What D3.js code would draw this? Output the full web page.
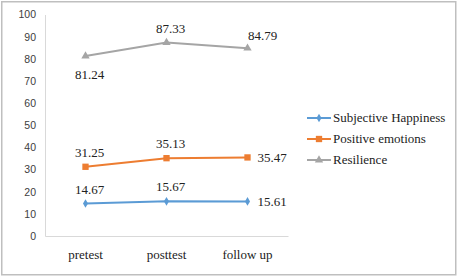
<!DOCTYPE html>
<html><head><meta charset="utf-8">
<script src="https://cdn.jsdelivr.net/npm/d3@7"></script>
<style>body{margin:0;background:#fff}svg{display:block}
.serif{font-family:"Liberation Serif","Times New Roman",Times,serif}
.sans{font-family:"Liberation Sans",Arial,sans-serif}
</style>
</head><body>
<svg id="c" width="458" height="277"></svg>
<script>
const categories = ["pretest", "posttest", "follow up"];
const seriesNames = ["Subjective Happiness", "Positive emotions", "Resilience"];
const happiness = [14.67, 15.67, 15.61];
const positive = [31.25, 35.13, 35.47];
const resilience = [81.24, 87.33, 84.79];
const yTicks = [0, 10, 20, 30, 40, 50, 60, 70, 80, 90, 100];

const colors = ["#5B9BD5", "#ED7D31", "#A5A5A5"];
const series = [
  {name: seriesNames[0], values: happiness, color: colors[0], shape: d3.symbolDiamond, size: 22,
   pos: ["above", "above", "right"]},
  {name: seriesNames[1], values: positive, color: colors[1], shape: d3.symbolSquare, size: 40,
   pos: ["above", "above", "right"]},
  {name: seriesNames[2], values: resilience, color: colors[2], shape: d3.symbolTriangle, size: 30,
   pos: ["below", "above", "aboveRight"]}
];

const svg = d3.select("#c");
svg.append("rect").attr("x", 1.75).attr("y", 1.75).attr("width", 454).attr("height", 273)
  .attr("fill", "#fff").attr("stroke", "#bfbfbf").attr("stroke-width", 1.5);

const x = d3.scaleBand().domain(categories).range([45, 288]);
const y = d3.scaleLinear().domain([0, 100]).range([236, 14.5]);

// axes
const yAxis = d3.axisLeft(y).tickValues(yTicks).tickSize(0).tickPadding(9);
const gy = svg.append("g").attr("transform", "translate(45,0)").call(yAxis)
  .attr("font-family", null);
gy.select(".domain").attr("stroke", "#d9d9d9");
gy.selectAll("text").attr("class", "sans")
  .attr("font-size", 10.5).attr("fill", "#404040");

const xAxis = d3.axisBottom(x).tickSize(0).tickPadding(14);
const gx = svg.append("g").attr("transform", "translate(0,236)").call(xAxis)
  .attr("font-family", null);
gx.select(".domain").attr("stroke", "#d9d9d9");
gx.selectAll("text").attr("class", "serif")
  .attr("font-size", 13).attr("fill", "#222");

const cx = d => x(d) + x.bandwidth() / 2;
const line = d3.line().x((v, i) => cx(categories[i])).y(v => y(v));

series.forEach(s => {
  svg.append("path").datum(s.values).attr("d", line).attr("fill", "none")
    .attr("stroke", s.color).attr("stroke-width", 2);
  s.values.forEach((v, i) => {
    svg.append("path").attr("d", d3.symbol().type(s.shape).size(s.size)())
      .attr("transform", `translate(${cx(categories[i])},${y(v)})`).attr("fill", s.color);
    let tx = cx(categories[i]), ty = y(v), anchor = "middle";
    const p = s.pos[i];
    if (p === "above") { ty -= 10; tx += 4; }
    else if (p === "below") { ty += 23; tx += 4; }
    else if (p === "right") { tx += 10; ty += 5; anchor = "start"; }
    else if (p === "aboveRight") { tx += 15; ty -= 8; }
    svg.append("text").attr("x", tx).attr("y", ty).attr("text-anchor", anchor)
      .attr("class", "serif").attr("font-size", 13)
      .attr("fill", "#222").text(v.toFixed(2));
  });
});

// legend
const lg = svg.append("g");
series.forEach((s, i) => {
  const ly = 118 + i * 21;
  lg.append("line").attr("x1", 307).attr("x2", 331).attr("y1", ly).attr("y2", ly)
    .attr("stroke", s.color).attr("stroke-width", 2);
  lg.append("path").attr("d", d3.symbol().type(s.shape).size(s.size)())
    .attr("transform", `translate(319,${ly})`).attr("fill", s.color);
  lg.append("text").attr("x", 333).attr("y", ly + 4)
    .attr("class", "serif").attr("font-size", 13)
    .attr("fill", "#222").text(s.name);
});
</script>
</body></html>
